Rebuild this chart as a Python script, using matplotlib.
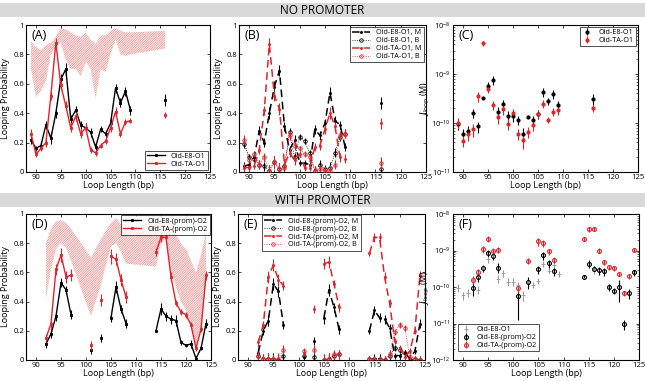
import numpy as np
import matplotlib
matplotlib.use('Agg')
import matplotlib.pyplot as plt
from matplotlib.patches import Rectangle

plt.rcParams['font.family'] = ['Open Sans', 'DejaVu Sans']
plt.rcParams['hatch.linewidth'] = 0.45
plt.rcParams['hatch.color'] = '#f08a8a'
plt.rcParams['mathtext.fontset'] = 'dejavusans'

RED = '#e3232b'
GRAY = '#9a9a9a'

# ---------------- data: no promoter ----------------
L_no = [89, 90, 91, 92, 93, 94, 95, 96, 97, 98, 99, 100, 101, 102, 103, 104, 105, 106, 107, 108, 109, 116]

A_E8 = [0.22, 0.16, 0.18, 0.32, 0.23, 0.40, 0.63, 0.70, 0.36, 0.42, 0.32, 0.30, 0.27, 0.17, 0.29, 0.26, 0.33, 0.57, 0.47, 0.55, 0.42, 0.49]
A_E8_err = [0.03, 0.02, 0.03, 0.03, 0.04, 0.03, 0.04, 0.04, 0.03, 0.03, 0.03, 0.03, 0.03, 0.03, 0.02, 0.02, 0.03, 0.03, 0.03, 0.03, 0.03, 0.04]
A_TA = [0.26, 0.12, 0.16, 0.20, 0.52, 0.88, 0.59, 0.45, 0.30, 0.38, 0.26, 0.30, 0.15, 0.13, 0.18, 0.21, 0.30, 0.41, 0.26, 0.34, 0.35, 0.39]
A_TA_err = [0.03, 0.02, 0.02, 0.03, 0.03, 0.03, 0.03, 0.03, 0.03, 0.03, 0.03, 0.03, 0.02, 0.02, 0.02, 0.02, 0.03, 0.03, 0.02, 0.02, 0.02, 0.02]
A_band_hi = [0.89, 0.85, 0.83, 0.86, 0.88, 0.92, 0.98, 0.97, 0.95, 0.93, 0.92, 0.95, 0.90, 0.87, 0.93, 0.93, 0.96, 0.98, 0.96, 0.95, 0.95, 0.96]
A_band_lo = [0.70, 0.51, 0.55, 0.62, 0.80, 0.85, 0.88, 0.76, 0.70, 0.70, 0.65, 0.75, 0.70, 0.50, 0.70, 0.68, 0.80, 0.90, 0.80, 0.79, 0.80, 0.84]

B_E8_M = [0.04, 0.05, 0.10, 0.28, 0.20, 0.40, 0.58, 0.69, 0.31, 0.15, 0.22, 0.06, 0.06, 0.05, 0.29, 0.25, 0.33, 0.54, 0.35, 0.32, 0.17, 0.47]
B_E8_B = [0.19, 0.10, 0.09, 0.05, 0.04, 0.01, 0.07, 0.02, 0.04, 0.27, 0.10, 0.24, 0.21, 0.13, 0.01, 0.05, 0.02, 0.03, 0.13, 0.24, 0.26, 0.02]
B_TA_M = [0.03, 0.03, 0.04, 0.15, 0.42, 0.87, 0.52, 0.43, 0.05, 0.13, 0.08, 0.12, 0.03, 0.03, 0.17, 0.18, 0.29, 0.40, 0.31, 0.10, 0.09, 0.33]
B_TA_B = [0.22, 0.08, 0.12, 0.05, 0.10, 0.01, 0.07, 0.02, 0.03, 0.25, 0.18, 0.16, 0.12, 0.10, 0.01, 0.02, 0.01, 0.01, 0.05, 0.25, 0.26, 0.06]
B_err = [0.03, 0.02, 0.02, 0.03, 0.03, 0.04, 0.04, 0.04, 0.03, 0.03, 0.03, 0.02, 0.02, 0.02, 0.03, 0.03, 0.03, 0.04, 0.03, 0.03, 0.03, 0.04]

C_E8 = [9.5e-11, 6e-11, 7e-11, 1.6e-10, 8.5e-11, 3.3e-10, 5.7e-10, 7.5e-10, 1.7e-10, 2.4e-10, 1.4e-10, 1.4e-10, 1.15e-10, 6e-11, 1.35e-10, 1.15e-10, 1.5e-10, 4.3e-10, 2.8e-10, 3.9e-10, 2.3e-10, 3.1e-10]
C_E8_rel = [0.25, 0.25, 0.25, 0.2, 0.25, 0.05, 0.2, 0.2, 0.25, 0.2, 0.25, 0.25, 0.2, 0.3, 0.05, 0.2, 0.2, 0.2, 0.15, 0.2, 0.2, 0.25]
C_TA = [1e-10, 4.3e-11, 6e-11, 7.5e-11, 3.5e-10, 4.2e-9, 5e-10, 2.3e-10, 1.3e-10, 1.9e-10, 9.5e-11, 1.6e-10, 6e-11, 4.5e-11, 6.5e-11, 9e-11, 1.5e-10, 2.5e-10, 1.15e-10, 1.7e-10, 1.8e-10, 2.0e-10]
C_TA_rel = [0.25, 0.25, 0.3, 0.3, 0.25, 0.1, 0.2, 0.2, 0.25, 0.25, 0.25, 0.2, 0.25, 0.35, 0.25, 0.25, 0.2, 0.2, 0.15, 0.2, 0.2, 0.15]

# ---------------- data: with promoter ----------------
L_pr = [92, 93, 94, 95, 96, 97, 101, 103, 105, 106, 107, 108, 114, 115, 116, 117, 118, 119, 120, 121, 122, 123, 124]

D_E8 = [0.11, 0.18, 0.30, 0.53, 0.48, 0.31, 0.07, 0.15, 0.29, 0.50, 0.35, 0.25, 0.20, 0.35, 0.30, 0.28, 0.27, 0.12, 0.10, 0.11, 0.01, 0.08, 0.25]
D_E8_err = [0.03, 0.03, 0.03, 0.03, 0.03, 0.03, 0.03, 0.03, 0.03, 0.04, 0.03, 0.03, 0.01, 0.04, 0.03, 0.03, 0.04, 0.02, 0.01, 0.03, 0.02, 0.01, 0.03]
D_TA = [0.15, 0.25, 0.62, 0.72, 0.57, 0.58, 0.10, 0.41, 0.71, 0.69, 0.55, 0.43, 0.74, 0.84, 0.84, 0.57, 0.39, 0.33, 0.31, 0.24, 0.08, 0.21, 0.58]
D_TA_err = [0.03, 0.04, 0.04, 0.05, 0.04, 0.04, 0.03, 0.04, 0.05, 0.04, 0.04, 0.04, 0.03, 0.03, 0.03, 0.03, 0.02, 0.02, 0.02, 0.02, 0.02, 0.02, 0.03]
D_band_hi = [0.80, 0.90, 0.95, 0.96, 0.94, 0.90, 0.70, 0.83, 0.94, 0.97, 0.93, 0.90, 0.95, 0.96, 0.96, 0.93, 0.86, 0.80, 0.76, 0.68, 0.60, 0.72, 0.88]
D_band_lo = [0.42, 0.62, 0.76, 0.80, 0.77, 0.68, 0.30, 0.52, 0.78, 0.80, 0.74, 0.66, 0.64, 0.80, 0.83, 0.62, 0.50, 0.40, 0.34, 0.25, 0.08, 0.22, 0.55]

E_E8_M = [0.05, 0.20, 0.27, 0.52, 0.47, 0.24, 0.02, 0.13, 0.29, 0.48, 0.36, 0.21, 0.20, 0.34, 0.29, 0.28, 0.22, 0.03, 0.03, 0.05, 0.01, 0.06, 0.25]
E_E8_B = [0.03, 0.01, 0.01, 0.01, 0.00, 0.03, 0.03, 0.02, 0.00, 0.01, 0.03, 0.04, 0.01, 0.01, 0.01, 0.00, 0.03, 0.08, 0.07, 0.05, 0.00, 0.01, 0.00]
E_TA_M = [0.12, 0.24, 0.57, 0.65, 0.55, 0.51, 0.05, 0.35, 0.66, 0.67, 0.52, 0.36, 0.73, 0.84, 0.84, 0.57, 0.39, 0.13, 0.08, 0.02, 0.06, 0.20, 0.58]
E_TA_B = [0.03, 0.01, 0.01, 0.00, 0.01, 0.07, 0.06, 0.07, 0.00, 0.01, 0.04, 0.04, 0.01, 0.00, 0.00, 0.00, 0.04, 0.19, 0.24, 0.22, 0.02, 0.01, 0.00]
E_err = [0.03, 0.03, 0.04, 0.04, 0.04, 0.03, 0.02, 0.03, 0.04, 0.04, 0.03, 0.03, 0.02, 0.03, 0.03, 0.03, 0.03, 0.02, 0.02, 0.02, 0.02, 0.02, 0.03]

F_E8 = [9.3e-11, 1.9e-10, 3.3e-10, 8.5e-10, 7e-10, 3.4e-10, 5.8e-11, 1.35e-10, 3.1e-10, 7.5e-10, 4.5e-10, 2.7e-10, 1.9e-10, 4.3e-10, 3.2e-10, 2.9e-10, 2.7e-10, 1e-10, 8e-11, 9.8e-11, 9.5e-12, 6.7e-11, 2.5e-10]
F_E8_rel = [0.4, 0.3, 0.2, 0.2, 0.2, 0.3, 0.78, 0.35, 0.25, 0.25, 0.25, 0.25, 0.1, 0.25, 0.15, 0.25, 0.25, 0.2, 0.2, 0.6, 0.3, 0.3, 0.2]
F_TA = [1.6e-10, 2.5e-10, 1.1e-9, 2.1e-9, 1e-9, 1.05e-9, 9.5e-11, 5.3e-10, 1.8e-9, 1.6e-9, 9.4e-10, 5.5e-10, 2.1e-9, 3.8e-9, 3.9e-9, 1e-9, 4.8e-10, 3.5e-10, 3.3e-10, 2.3e-10, 6.8e-11, 2e-10, 1.05e-9]
F_TA_rel = [0.25, 0.25, 0.2, 0.2, 0.2, 0.2, 0.3, 0.2, 0.25, 0.2, 0.2, 0.2, 0.15, 0.15, 0.1, 0.15, 0.15, 0.15, 0.15, 0.15, 0.15, 0.15, 0.15]

xticks = [90, 95, 100, 105, 110, 115, 120, 125]
prob_ticks = [0, 0.2, 0.4, 0.6, 0.8, 1]
prob_labels = ['0', '0.2', '0.4', '0.6', '0.8', '1']

W, H = 645, 381
fig = plt.figure(figsize=(W / 100, H / 100), dpi=100)
HATCH = '/' * 14


def ax_px(l, r, t, b):
    return fig.add_axes([l / W, 1 - b / H, (r - l) / W, (b - t) / H])


def segments(x):
    x = np.asarray(x)
    breaks = np.where(np.diff(x) > 1)[0] + 1
    return np.split(np.arange(len(x)), breaks)


def style(ax, logy=False, panel='', ylabel=None, ylab_x=None):
    ax.set_xlim(88, 125)
    ax.set_xticks(xticks)
    ax.tick_params(direction='in', top=True, right=True, labelsize=5.5, length=2.5, width=0.5, pad=1.5)
    ax.tick_params(which='minor', direction='in', top=True, right=True, length=1.5, width=0.4)
    for s in ax.spines.values():
        s.set_linewidth(0.8)
    ax.set_xlabel('Loop Length (bp)', fontsize=6.5, labelpad=0)
    if not logy:
        ax.set_ylim(0, 1)
        ax.set_yticks(prob_ticks)
        ax.set_yticklabels(prob_labels)
    if ylabel:
        ax.set_ylabel(ylabel, fontsize=6.5, labelpad=2)
        if ylab_x is not None:
            ax.yaxis.set_label_coords(ylab_x, 0.5)
    ax.text(0.03, 0.97, panel, transform=ax.transAxes, fontsize=9, va='top', ha='left')


def seg_plot(ax, x, y, yerr, color, ls, marker, mfc, label, lw=1.0, ms=2.5):
    x = np.asarray(x); y = np.asarray(y); yerr = np.asarray(yerr)
    first = True
    for idx in segments(x):
        ax.plot(x[idx], y[idx], color=color, ls=ls, lw=lw, marker=marker, ms=ms,
                mfc=mfc, mec=color, mew=0.6, label=label if first else None, zorder=3)
        first = False
    ax.errorbar(x, y, yerr=yerr, fmt='none', ecolor=color, elinewidth=0.8, capsize=0, zorder=3)


def log_err(y, rel):
    y = np.asarray(y); rel = np.asarray(rel)
    return np.vstack([y * rel, y * rel])


def leg(ax, **kw):
    l = ax.legend(fontsize=5.2, frameon=True, fancybox=False, edgecolor='black',
                  borderpad=0.3, labelspacing=0.12, **kw)
    l.get_frame().set_linewidth(0.6)
    return l


# banners
for (t, b, txt) in [(3, 17, 'NO PROMOTER'), (193, 207, 'WITH PROMOTER')]:
    fig.patches.append(Rectangle((0, 1 - b / H), 1, (b - t) / H, transform=fig.transFigure,
                                 facecolor='#d9d9d9', edgecolor='none', zorder=0))
    fig.text(0.5, 1 - (t + b) / 2 / H, txt, ha='center', va='center', fontsize=8.5)

# ---------- A ----------
axA = ax_px(26, 210, 25, 172)
axA.fill_between(L_no, A_band_lo, A_band_hi, facecolor='#fdeeee', edgecolor='#f08a8a', hatch=HATCH, linewidth=0, zorder=1)
seg_plot(axA, L_no, A_E8, A_E8_err, 'black', '-', 's', 'black', 'Oid-E8-O1', ms=1.5)
seg_plot(axA, L_no, A_TA, A_TA_err, RED, '-', 's', RED, 'Oid-TA-O1', ms=1.5)
style(axA, panel='(A)', ylabel='Looping Probability')
leg(axA, loc='lower right', handlelength=2.5, borderaxespad=0.3)

# ---------- B ----------
axB = ax_px(239, 426, 25, 172)
seg_plot(axB, L_no, B_E8_M, B_err, 'black', (0, (5, 3)), 'o', 'black', 'Oid-E8-O1, M', lw=1.1, ms=1.5)
seg_plot(axB, L_no, B_E8_B, B_err, 'black', ':', 'o', 'none', 'Oid-E8-O1, B', lw=0.6, ms=2.5)
seg_plot(axB, L_no, B_TA_M, B_err, RED, (0, (5, 3)), 'o', RED, 'Oid-TA-O1, M', lw=1.1, ms=1.5)
seg_plot(axB, L_no, B_TA_B, B_err, RED, ':', 'o', 'none', 'Oid-TA-O1, B', lw=0.6, ms=2.5)
style(axB, panel='(B)', ylabel='Looping Probability')
leg(axB, loc='upper right', handlelength=2.5, borderaxespad=0.3)

# ---------- C ----------
axC = ax_px(453, 638, 25, 172)
axC.set_yscale('log')
axC.errorbar(L_no, C_E8, yerr=log_err(C_E8, C_E8_rel), fmt='o', color='black', ms=2, elinewidth=0.8, capsize=0, label='Oid-E8-O1')
axC.errorbar(L_no, C_TA, yerr=log_err(C_TA, C_TA_rel), fmt='o', color=RED, ms=2, elinewidth=0.8, capsize=0, label='Oid-TA-O1')
axC.set_ylim(1e-11, 1e-8)
style(axC, logy=True, panel='(C)', ylabel=r'$J_{\mathrm{loop}}$ (M)', ylab_x=-0.112)
leg(axC, loc='upper right', handlelength=1.5, borderaxespad=0.3)

# ---------- D ----------
axD = ax_px(26, 211, 214, 360)
axD.fill_between(L_pr, D_band_lo, D_band_hi, facecolor='#fdeeee', edgecolor='#f08a8a', hatch=HATCH, linewidth=0, zorder=1)
seg_plot(axD, L_pr, D_E8, D_E8_err, 'black', '-', 's', 'black', 'Oid-E8-(prom)-O2', ms=1.5)
seg_plot(axD, L_pr, D_TA, D_TA_err, RED, '-', 's', RED, 'Oid-TA-(prom)-O2', ms=1.5)
style(axD, panel='(D)', ylabel='Looping Probability')
leg(axD, loc='upper right', handlelength=2.5, borderaxespad=0.2)

# ---------- E ----------
axE = ax_px(238, 425, 214, 360)
seg_plot(axE, L_pr, E_E8_M, E_err, 'black', (0, (5, 3)), 'o', 'black', 'Oid-E8-(prom)-O2, M', lw=1.1, ms=1.5)
seg_plot(axE, L_pr, E_E8_B, E_err, 'black', ':', 'o', 'none', 'Oid-E8-(prom)-O2, B', lw=0.6, ms=2.5)
seg_plot(axE, L_pr, E_TA_M, E_err, RED, (0, (5, 3)), 'o', RED, 'Oid-TA-(prom)-O2, M', lw=1.1, ms=1.5)
seg_plot(axE, L_pr, E_TA_B, E_err, RED, ':', 'o', 'none', 'Oid-TA-(prom)-O2, B', lw=0.6, ms=2.5)
style(axE, panel='(E)', ylabel='Looping Probability')
leg(axE, loc='upper left', bbox_to_anchor=(0.12, 1.0), handlelength=2.5, borderaxespad=0.2)

# ---------- F ----------
axF = ax_px(453, 639, 214, 360)
axF.set_yscale('log')
axF.errorbar(L_no, C_E8, yerr=log_err(C_E8, C_E8_rel), fmt='+', color=GRAY, ms=2.5, mew=0.6, elinewidth=0.8, capsize=0, label='Oid-E8-O1')
axF.errorbar(L_pr, F_E8, yerr=log_err(F_E8, F_E8_rel), fmt='o', color='black', mfc='none', ms=2.8, mew=0.8, elinewidth=0.8, capsize=0, label='Oid-E8-(prom)-O2')
axF.errorbar(L_pr, F_TA, yerr=log_err(F_TA, F_TA_rel), fmt='o', color=RED, mfc='none', ms=2.8, mew=0.8, elinewidth=0.8, capsize=0, label='Oid-TA-(prom)-O2')
axF.set_ylim(1e-12, 1e-8)
style(axF, logy=True, panel='(F)', ylabel=r'$J_{\mathrm{loop}}$ (M)', ylab_x=-0.112)
leg(axF, loc='lower left', bbox_to_anchor=(0.02, 0.05), handlelength=1.5, borderaxespad=0.2)

fig.savefig('out.png', dpi=100)
